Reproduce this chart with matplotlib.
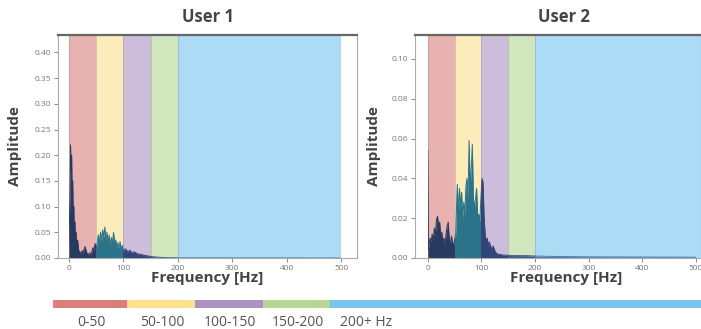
import numpy as np
import matplotlib
matplotlib.use('agg')
from matplotlib import pyplot as plt
from matplotlib.patches import Rectangle

plt.rcParams['font.family'] = ['Open Sans', 'DejaVu Sans']

# 频段
band_names = ['0-50', '50-100', '100-150', '150-200', '200+ Hz']
band_edges = [0, 50, 100, 150, 200, 500]
band_colors = ['#d9807c', '#fde08f', '#ab94c4', '#b5d694', '#76c4ef']
fill_colors = ['#283a60', '#2a7389', '#32457a', '#3b5d8a', '#4a7fb0']

# User 1 频谱
freq_1 = [0, 2, 3, 4, 5, 6, 7, 8, 9, 10, 11, 12, 13, 14, 16, 18, 20, 22, 24, 26,
          28, 30, 32, 34, 36, 38, 40, 42, 44, 46, 48, 50, 52, 54, 56, 58, 60, 62,
          64, 66, 68, 70, 72, 74, 76, 78, 80, 82, 84, 86, 88, 90, 92, 94, 96, 98,
          100, 104, 108, 112, 116, 120, 126, 132, 140, 150, 160, 170, 180, 200, 500]
amp_1 = [0.03, 0.12, 0.22, 0.17, 0.20, 0.12, 0.15, 0.08, 0.10, 0.05, 0.07, 0.04,
         0.05, 0.03, 0.035, 0.015, 0.012, 0.008, 0.014, 0.010, 0.018, 0.022, 0.012,
         0.008, 0.006, 0.010, 0.007, 0.012, 0.020, 0.015, 0.028, 0.020, 0.030,
         0.045, 0.030, 0.050, 0.035, 0.055, 0.040, 0.060, 0.035, 0.050, 0.030,
         0.045, 0.025, 0.040, 0.030, 0.050, 0.028, 0.035, 0.020, 0.030, 0.018,
         0.032, 0.015, 0.025, 0.012, 0.018, 0.012, 0.015, 0.010, 0.012, 0.008,
         0.007, 0.005, 0.003, 0.002, 0.001, 0.0005, 0.0003, 0.0]

# User 2 频谱
freq_2 = [0, 1, 2, 4, 6, 8, 10, 12, 14, 16, 18, 20, 22, 24, 26, 28, 30, 32, 34, 36,
          38, 40, 42, 44, 46, 48, 50, 52, 54, 55, 57, 59, 61, 63, 65, 67, 69, 71,
          73, 75, 77, 79, 81, 83, 85, 87, 89, 91, 93, 95, 97, 99, 101, 103, 105,
          107, 109, 111, 113, 115, 118, 122, 126, 130, 140, 160, 180, 200, 230,
          300, 400, 500]
amp_2 = [0.054, 0.004, 0.006, 0.010, 0.008, 0.012, 0.009, 0.015, 0.012, 0.019,
         0.021, 0.016, 0.018, 0.011, 0.013, 0.008, 0.010, 0.007, 0.012, 0.016,
         0.018, 0.009, 0.007, 0.011, 0.008, 0.006, 0.009, 0.012, 0.030, 0.037,
         0.022, 0.035, 0.025, 0.033, 0.020, 0.028, 0.022, 0.036, 0.040, 0.030,
         0.059, 0.035, 0.045, 0.057, 0.030, 0.025, 0.030, 0.035, 0.020, 0.022,
         0.018, 0.030, 0.040, 0.038, 0.020, 0.012, 0.008, 0.010, 0.006, 0.008,
         0.005, 0.006, 0.003, 0.002, 0.0015, 0.0012, 0.0012, 0.001, 0.0008,
         0.0006, 0.0005, 0.0004]

y_ticks_1 = [0.00, 0.05, 0.10, 0.15, 0.20, 0.25, 0.30, 0.35, 0.40]
y_ticks_2 = [0.00, 0.02, 0.04, 0.06, 0.08, 0.10]
x_ticks = [0, 100, 200, 300, 400, 500]

W, H = 701, 329
fig = plt.figure(figsize=(W / 100, H / 100), dpi=100)


def px_box(x0, y0, x1, y1):
    # 像素坐标 -> figure 坐标
    return [x0 / W, 1 - y1 / H, (x1 - x0) / W, (y1 - y0) / H]


def spectrum(ax, freq, amp, title, xlim, ylim, yticks, blue_end, xlab_y, ylab_x):
    # 背景频段
    for i in range(len(band_names)):
        lo = band_edges[i]
        hi = band_edges[i + 1] if i < len(band_names) - 1 else blue_end
        ax.axvspan(lo, hi, color=band_colors[i], alpha=0.6, lw=0, zorder=0)
        ax.axvline(lo, color='#888888', lw=0.5, alpha=0.5, zorder=0.5)
    # 频谱，按频段着色
    for i in range(len(band_names)):
        lo = band_edges[i]
        hi = band_edges[i + 1] if i < len(band_names) - 1 else blue_end
        clip = Rectangle((lo, 0), hi - lo, ylim[1], transform=ax.transData)
        poly = ax.fill_between(freq, 0, amp, color=fill_colors[i], lw=0, zorder=2)
        poly.set_clip_path(clip)
        line, = ax.plot(freq, amp, color=fill_colors[i], lw=0.7, zorder=3)
        line.set_clip_path(clip)

    ax.set_xlim(*xlim)
    ax.set_ylim(*ylim)
    ax.set_xticks(x_ticks)
    ax.set_yticks(yticks)
    ax.yaxis.set_major_formatter(matplotlib.ticker.FormatStrFormatter('%.2f'))
    ax.tick_params(labelsize=6, colors='#777777', length=3, width=0.6, pad=2)
    ax.set_facecolor('white')
    for s in ['left', 'bottom', 'right']:
        ax.spines[s].set_color('#aaaaaa')
        ax.spines[s].set_linewidth(0.8)
    ax.spines['top'].set_color('#666666')
    ax.spines['top'].set_linewidth(1.6)

    ax.set_title(title, fontsize=12, fontweight='bold', color='#444444', pad=9)
    ax.set_xlabel('Frequency [Hz]', fontsize=11, fontweight='bold', color='#444444')
    ax.set_ylabel('Amplitude', fontsize=11, fontweight='bold', color='#444444')
    ax.xaxis.set_label_coords(0.5, xlab_y)
    ax.yaxis.set_label_coords(ylab_x, 0.5)


ax1 = fig.add_axes(px_box(58, 35, 357, 258))
spectrum(ax1, freq_1, amp_1, 'User 1', (-20, 529), (0, 0.434), y_ticks_1, 500, -0.06, -0.12)

ax2 = fig.add_axes(px_box(415, 35, 701, 258))
spectrum(ax2, freq_2, amp_2, 'User 2', (-24, 510), (0, 0.112), y_ticks_2, 520, -0.06, -0.119)
ax2.title.set_position((0.52, 1.0))
ax2.xaxis.set_label_coords(0.53, -0.06)

# 底部图例色条
seg_widths = [74, 68, 68, 67, 371]
leg = fig.add_axes(px_box(53, 300, 701, 308))
left = 0
for i in range(len(band_names)):
    leg.barh(0, seg_widths[i], left=left, height=1, color=band_colors[i], lw=0)
    if seg_widths[i] > 200:
        fig.text((53 + left + 10) / W, 1 - 323 / H, band_names[i], ha='left', va='center',
                 fontsize=10, color='#555555')
    else:
        fig.text((53 + left + seg_widths[i] / 2 + 1) / W, 1 - 323 / H, band_names[i], ha='center',
                 va='center', fontsize=10, color='#555555')
    left += seg_widths[i]
leg.set_xlim(0, left)
leg.set_ylim(-0.5, 0.5)
leg.axis('off')

plt.savefig('out.png', dpi=100)
